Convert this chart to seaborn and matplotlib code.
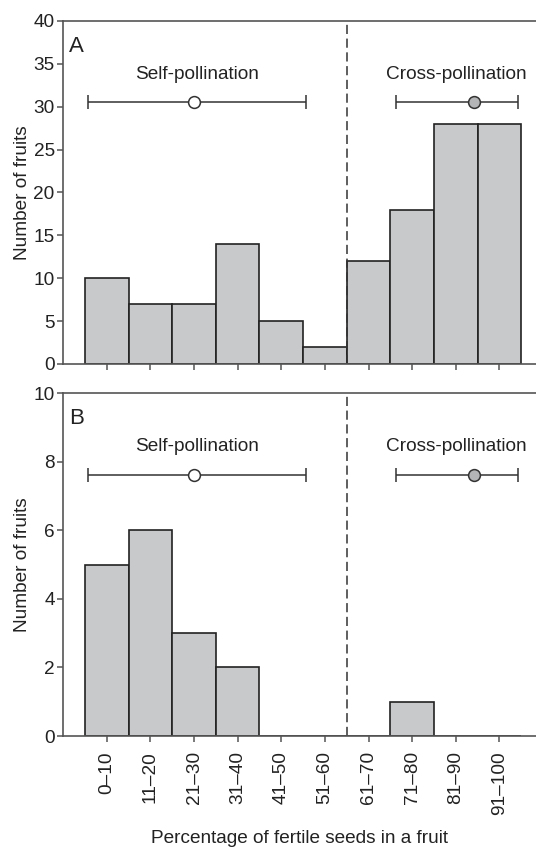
import matplotlib
matplotlib.use("Agg")
import matplotlib.pyplot as plt
import seaborn as sns
import pandas as pd

# Seed-set classes (percentage of fertile seeds per fruit)
classes = ["0\u201310", "11\u201320", "21\u201330", "31\u201340", "41\u201350",
           "51\u201360", "61\u201370", "71\u201380", "81\u201390", "91\u2013100"]
counts_a = [10, 7, 7, 14, 5, 2, 12, 18, 28, 28]
counts_b = [5, 6, 3, 2, 0, 0, 0, 1, 0, 0]

# Mean and range of fertile-seed percentage per pollination treatment (%)
self_stats = {"mean": 25.0, "low": 0.8, "high": 50.6}
cross_stats = {"mean": 89.2, "low": 71.3, "high": 99.3}
threshold_pct = 60

panel_labels = ["A", "B"]
ylims = [40, 10]
ystep = [5, 2]
bar_y = [30.5, 7.6]
text_y = [33.8, 8.45]

FS = 13.7

sns.set_theme(style="ticks")
plt.rcParams["font.family"] = ["Liberation Sans", "DejaVu Sans"]
plt.rcParams["font.size"] = FS

fig = plt.figure(figsize=(5.36, 8.47), dpi=100)
ax_a = fig.add_axes([0.1175, 0.5703, 0.8825, 0.405])
ax_b = fig.add_axes([0.1175, 0.1310, 0.8825, 0.405])

bar_fill = "#c8c9cb"
edge = "#222222"
spine_col = "#555555"


def pct_to_pos(p):
    # categorical bar i spans [i-0.5, i+0.5] ~ [10i, 10i+10] percent
    return p / 10.0 - 0.5


for ax, counts, lab, ymax, step, by, ty in zip(
        [ax_a, ax_b], [counts_a, counts_b], panel_labels, ylims, ystep, bar_y, text_y):
    df = pd.DataFrame({"cls": classes, "n": counts})
    sns.barplot(data=df, x="cls", y="n", width=1.0, color=bar_fill,
                saturation=1, edgecolor=edge, linewidth=1.2, ax=ax)
    ax.set_xlim(-1.005, 9.84)
    ax.set_ylim(0, ymax)
    ax.set_yticks(range(0, ymax + 1, step))

    ax.axvline(pct_to_pos(threshold_pct), color="#333333", lw=1.1,
               ls=(0, (6, 3)), zorder=1)

    for st, face, txt, tx in [(self_stats, "white", "Self-pollination", 25.7),
                              (cross_stats, "#b4b5b7", "Cross-pollination", 85.2)]:
        m = pct_to_pos(st["mean"])
        lo = m - pct_to_pos(st["low"])
        hi = pct_to_pos(st["high"]) - m
        ax.errorbar([m], [by], xerr=[[lo], [hi]], fmt="o", ms=8.5,
                    mfc=face, mec="#333333", mew=1.1, ecolor="#333333",
                    elinewidth=1.1, capsize=5, capthick=1.1, zorder=5)
        ax.text(pct_to_pos(tx), ty, txt, ha="center", va="center", fontsize=FS,
                color="#222222")

    ax.text(-0.86, ymax * 0.925, lab, fontsize=16, ha="left", va="center",
            color="#222222")

    ax.set_ylabel("Number of fruits", fontsize=FS, color="#222222", labelpad=2)
    ax.spines["right"].set_visible(False)
    for s in ["left", "bottom", "top"]:
        ax.spines[s].set_color(spine_col)
        ax.spines[s].set_linewidth(1.2)
    ax.tick_params(axis="both", direction="out", length=4, width=1.1,
                   color=spine_col, labelsize=FS, labelcolor="#222222", pad=2)

ax_a.set_xlabel("")
ax_a.tick_params(axis="x", labelbottom=False)
ax_b.set_xticks(range(len(classes)))
ax_b.set_xticklabels(classes, rotation=90, fontsize=FS)
ax_b.tick_params(axis="x", pad=7)
ax_b.set_xlabel("Percentage of fertile seeds in a fruit", fontsize=FS,
                color="#222222", labelpad=11)

fig.savefig("out.png", dpi=100)
